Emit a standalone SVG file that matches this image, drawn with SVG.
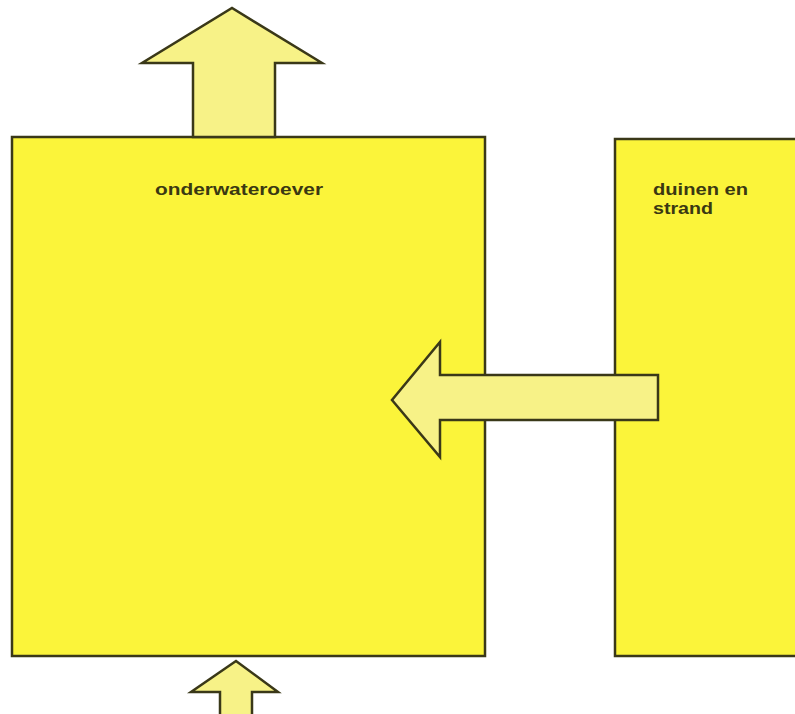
<svg xmlns="http://www.w3.org/2000/svg" width="795" height="714" viewBox="0 0 795 714">
<style>
.box{fill:#fbf43a;stroke:#3a3818;stroke-width:2.5}
.arr{fill:#f7f287;stroke:#3a3818;stroke-width:2.5;stroke-linejoin:miter}
.lbl{font-family:"Liberation Sans",Arial,sans-serif;font-size:17px;font-weight:bold;fill:#3a3812}
</style>
<rect width="795" height="714" fill="#ffffff"/>
<g id="onderwateroever">
<rect class="box" x="12" y="137" width="473" height="519"/>
<text class="lbl" x="155" y="195" textLength="168" lengthAdjust="spacingAndGlyphs">onderwateroever</text>
</g>
<g id="duinen">
<rect class="box" x="615" y="139" width="200" height="517"/>
<text class="lbl" x="653" y="195" textLength="95" lengthAdjust="spacingAndGlyphs">duinen en</text>
<text class="lbl" x="653" y="214" textLength="60" lengthAdjust="spacingAndGlyphs">strand</text>
</g>
<g id="connectors">
<polygon class="arr" points="193,137 193,63 142,63 232,8 322,63 275,63 275,137"/>
<polygon class="arr" points="658,375 658,420 440,420 440,457 392,400 440,342 440,375"/>
<polygon class="arr" points="220,716 220,692 191,692 236,661 278,692 252,692 252,716"/>
</g>
</svg>
